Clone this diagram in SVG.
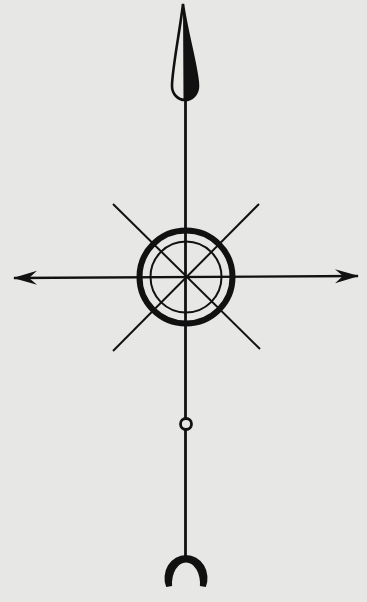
<svg xmlns="http://www.w3.org/2000/svg" width="367" height="602" viewBox="0 0 367 602">
  <defs>
    <marker id="arr" viewBox="-25 -8 27 16" refX="0" refY="0" markerWidth="27" markerHeight="16" markerUnits="userSpaceOnUse" orient="auto-start-reverse">
      <path d="M1,0 L-23,-7 L-15,0 L-23,7 Z" fill="#111"/>
    </marker>
  </defs>
  <style>
    .ink { stroke: #111; fill: none; }
  </style>
  <rect width="367" height="602" fill="#e7e7e5"/>
  <g id="axis">
    <line class="ink" x1="185.5" y1="96" x2="185.5" y2="556" stroke-width="2.8"/>
    <line class="ink" x1="14" y1="278" x2="358" y2="276" stroke-width="2.4" marker-start="url(#arr)" marker-end="url(#arr)"/>
    <line class="ink" x1="113" y1="204" x2="260" y2="349" stroke-width="2"/>
    <line class="ink" x1="259" y1="204" x2="113" y2="351" stroke-width="2"/>
  </g>
  <g id="spear">
    <path d="M183 4 C186 30 198 70 198 86 C198 94 192 100 185 100 C178 100 172 94 172 86 C172 70 180 30 183 4 Z" fill="#e7e7e5" stroke="#111" stroke-width="2.6"/>
    <path d="M183 4 C187 30 198 70 198 86 C198 94 192 100 185 100 L183.5 100 Z" fill="#111"/>
  </g>
  <g id="sun">
    <circle class="ink" cx="186" cy="277" r="46.5" stroke-width="6"/>
    <circle class="ink" cx="186" cy="277" r="35.5" stroke-width="2"/>
  </g>
  <g id="ring">
    <circle cx="186" cy="424" r="5.5" fill="#e7e7e5" stroke="#111" stroke-width="2.8"/>
  </g>
  <g id="crescent">
    <path d="M166.2 587 A21.5 23 0 1 1 205.8 587 L199.9 586 A14 21 0 1 0 172.1 586 Z" fill="#111"/>
  </g>
</svg>
